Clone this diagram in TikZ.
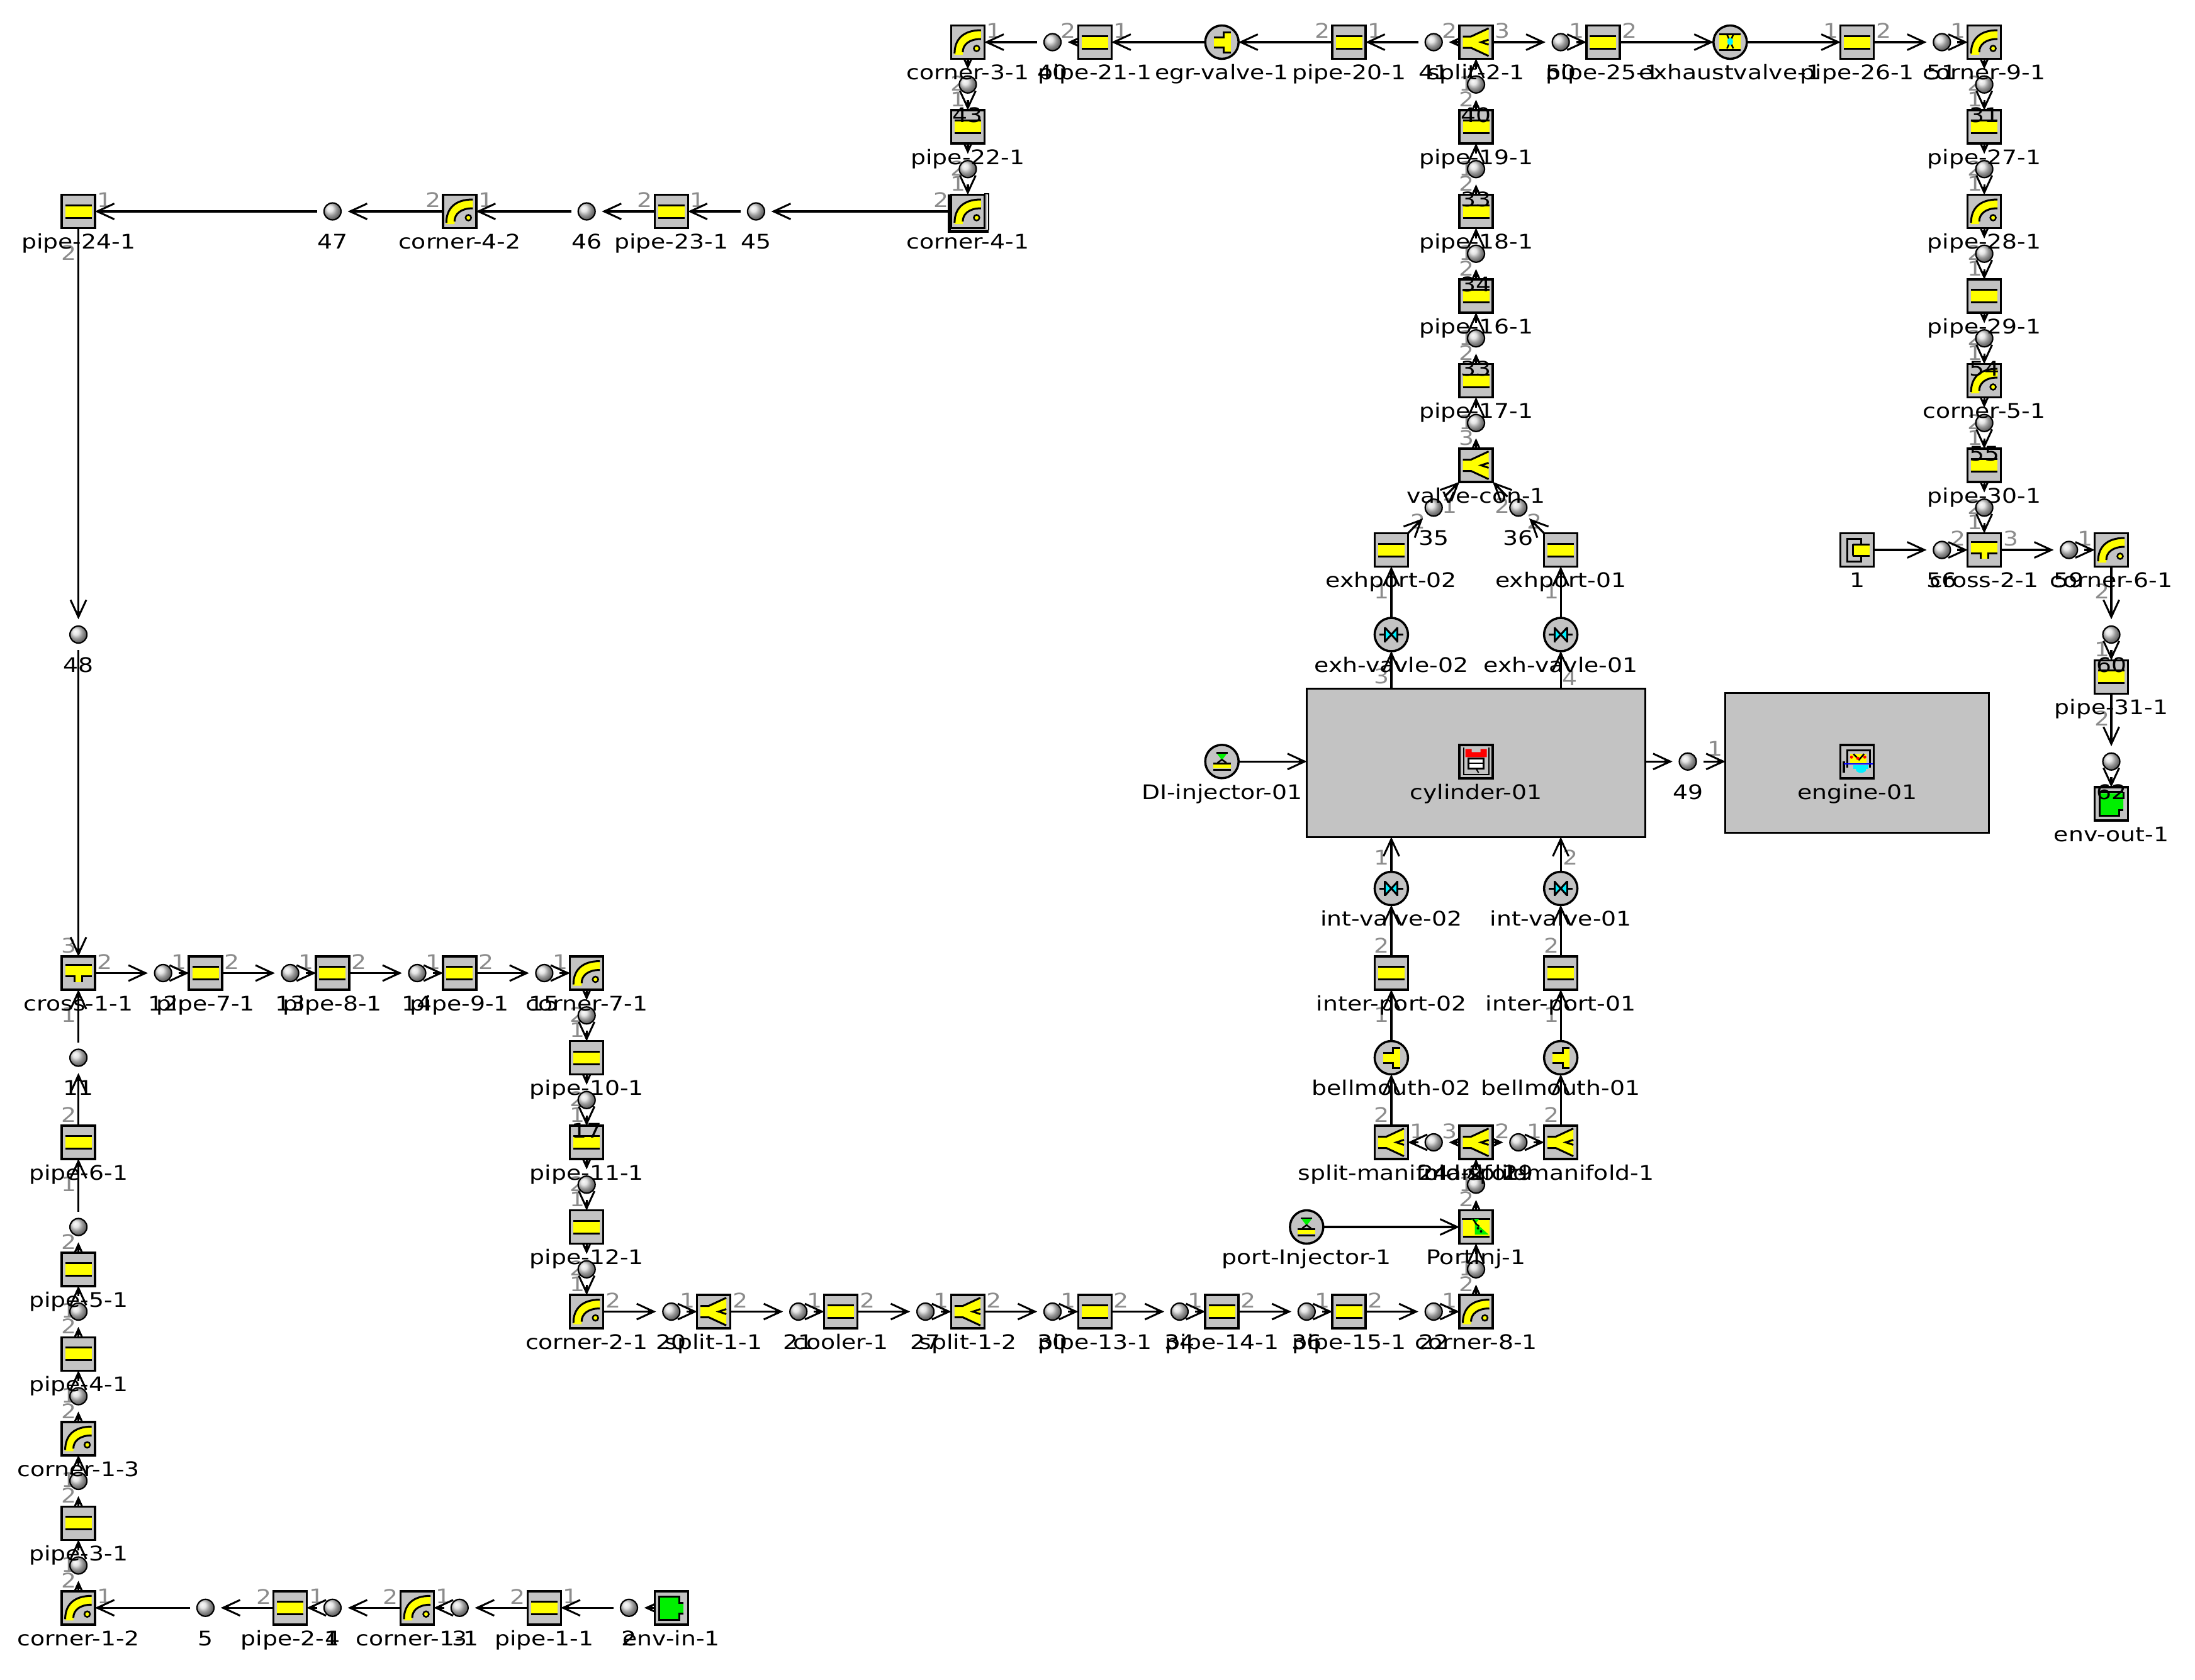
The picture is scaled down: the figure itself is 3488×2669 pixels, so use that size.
\documentclass[tikz,border=0pt]{standalone}
\usepackage{fontspec}
\setmainfont[FakeStretch=1.18]{DejaVu Sans}
\usetikzlibrary{arrows.meta,backgrounds}
\pgfdeclarelayer{fg}
\pgfsetlayers{background,main,fg}
\definecolor{boxgray}{HTML}{C3C3C3}
\definecolor{ylw}{HTML}{FFFF00}
\definecolor{grn}{HTML}{00F000}
\definecolor{cyn}{HTML}{00F0FF}
\definecolor{portgray}{HTML}{8C8C8C}
\tikzset{
  boxn/.style={draw=black,fill=boxgray,line width=3.5pt,minimum size=53pt,inner sep=0pt,outer sep=0pt},
  circn/.style={circle,draw=black,fill=boxgray,line width=3.5pt,minimum size=53pt,inner sep=0pt,outer sep=0pt},
  bigbox/.style={draw=black,fill=boxgray,line width=3.5pt,inner sep=0pt,outer sep=0pt},
  balln/.style={circle,draw=black,line width=2.2pt,minimum size=27pt,inner sep=0pt,outer sep=11pt,shade,ball color=gray!28},
  lab/.style={anchor=base,inner sep=0pt,text=black,font=\fontsize{32}{36}\selectfont},
  portlab/.style={anchor=center,inner sep=0pt,text=portgray,font=\fontsize{32}{36}\selectfont},
  conn/.style={draw=black,line width=3.2pt,-{Straight Barb[length=27pt,width=25pt,line width=3pt,sep=-14pt]Kite[length=14pt,width=9pt]}},
  ic/.style={x=1pt,y=-1pt,line width=3pt},
  pipeic/.pic={\begin{scope}[ic]
    \fill[ylw] (-21,-10) rectangle (21,10);
    \draw (-21,-10) -- (21,-10); \draw (-21,10) -- (21,10);
  \end{scope}},
  cornic/.pic={\begin{scope}[ic]
    \fill[ylw] (-21,20) .. controls (-21,-4) and (-8,-18) .. (21,-18) -- (21,-5) .. controls (2,-5) and (-8,4) .. (-8,20) -- cycle;
    \draw (-21,18) .. controls (-21,-4) and (-8,-19) .. (21,-19);
    \draw (-8,16) .. controls (-8,4) and (2,-5) .. (21,-5);
    \filldraw[fill=ylw,line width=2.5pt] (14,10) circle (4.5);
  \end{scope}},
  cornselic/.pic={\begin{scope}[ic]
    \fill[ylw] (-21,20) .. controls (-21,-4) and (-8,-18) .. (21,-18) -- (21,-5) .. controls (2,-5) and (-8,4) .. (-8,20) -- cycle;
    \draw (-21,18) .. controls (-21,-4) and (-8,-19) .. (21,-19);
    \draw (-8,16) .. controls (-8,4) and (2,-5) .. (21,-5);
    \filldraw[fill=ylw,line width=2.5pt] (14,10) circle (4.5);
    \draw[line width=5pt] (-29,-27) -- (-29,31) -- (33,31);
    \draw[line width=2.5pt] (26,-28) -- (33,-28) -- (33,30);
    \fill[boxgray] (28.5,-26.5) rectangle (31.5,28);
  \end{scope}},
  splitic/.pic={\begin{scope}[ic]
    \fill[ylw] (-21,-8) -- (-8,-8) -- (20,-21) -- (20,21) -- (-8,8) -- (-21,8) -- cycle;
    \draw (-21,-9) -- (-8,-9) -- (20,-22);
    \draw (-21,9) -- (-8,9) -- (20,22);
    \draw (20,-4) -- (8,0) -- (20,4);
  \end{scope}},
  crossic/.pic={\begin{scope}[ic]
    \fill[ylw] (-21,-12) rectangle (21,4);
    \fill[ylw] (-6,4) rectangle (6,14);
    \draw (-21,-13) -- (21,-13);
    \draw (-21,5) -- (-6,5) -- (-6,14);
    \draw (21,5) -- (6,5) -- (6,14);
  \end{scope}},
  bellic/.pic={\begin{scope}[ic]
    \fill[ylw] (-13,-7) rectangle (3,7);
    \fill[ylw] (2,-15) rectangle (14,15);
    \draw (-13,-8) -- (3,-8) -- (3,-16) -- (14,-16);
    \draw (-13,8) -- (3,8) -- (3,16) -- (14,16);
  \end{scope}},
  valveic/.pic={\begin{scope}[ic]
    \fill[cyn] (-10,-11) -- (0,0) -- (10,-11) -- (10,11) -- (0,0) -- (-10,11) -- cycle;
    \draw (-10,-12) -- (-10,12); \draw (10,-12) -- (10,12);
    \draw (-10,-11) -- (10,11); \draw (10,-11) -- (-10,11);
    \draw (-19,0) -- (-10,0); \draw (10,0) -- (19,0);
  \end{scope}},
  exhvalveic/.pic={\begin{scope}[ic]
    \fill[ylw] (-17,-12) rectangle (17,12);
    \draw (-17,-13) -- (17,-13); \draw (-17,12) -- (17,12);
    \draw[line width=2.5pt] (-5,-12) -- (5,10); \draw[line width=2.5pt] (5,-12) -- (-5,10);
    \fill[cyn] (0,-1) ellipse (4.5 and 6);
  \end{scope}},
  injic/.pic={\begin{scope}[ic]
    \fill[grn] (-9,-14) -- (9,-14) -- (0,-2) -- cycle;
    \draw[line width=2.5pt] (-9,-14) -- (9,-14);
    \draw[line width=2.5pt] (-7,2) -- (0,-3) -- (7,2);
    \fill[ylw] (-14,4) rectangle (14,11);
    \draw (-14,3) -- (14,3); \draw (-14,13) -- (14,13);
  \end{scope}},
  portinjic/.pic={\begin{scope}[ic]
    \fill[ylw] (-21,-13) rectangle (21,14);
    \draw (-21,-14) -- (-21,-11); \draw (-21,-13) -- (21,-13); \draw (21,-14) -- (21,-11);
    \draw (-21,15) -- (21,15);
    \fill[grn] (-8,-13) -- (5,-13) -- (0,-6) -- (20,12) -- (-2,12) -- (-2,-7) -- cycle;
    \draw[line width=2.5pt] (-5,-13) -- (0,-5) -- (5,-1);
    \fill (3,2) circle (2); \fill (8,7) circle (2);
  \end{scope}},
  envinic/.pic={\begin{scope}[ic]
    \fill[grn] (-18,-17) -- (13,-17) -- (13,-8) -- (19,-8) -- (19,9) -- (13,9) -- (13,18) -- (-18,18) -- cycle;
    \draw (19,-8) -- (13,-8) -- (13,-18) -- (-19,-18) -- (-19,19) -- (13,19) -- (13,9) -- (19,9);
  \end{scope}},
  envoutic/.pic={\begin{scope}[ic]
    \fill[grn] (-19,-17) -- (19,-17) -- (19,9) -- (12,9) -- (12,18) -- (-19,18) -- cycle;
    \draw (-19,-19) -- (19,-19);
    \draw (-19,-19) -- (-19,19) -- (12,19) -- (12,10) -- (19,10);
    \draw (19,-19) -- (19,-8);
  \end{scope}},
  oneic/.pic={\begin{scope}[ic]
    \fill[ylw] (-7,-8) rectangle (20,8);
    \draw (-7,-9) -- (20,-9); \draw (-7,9) -- (20,9);
    \draw (6,-9) -- (6,-18) -- (-16,-18) -- (-16,18) -- (6,18) -- (6,9);
    \draw (-7,-9) -- (-7,9);
  \end{scope}},
  cylic/.pic={\begin{scope}[ic]
    \filldraw[fill=boxgray,line width=3.5pt] (-26.5,-26.5) rectangle (26.5,26.5);
    \fill[red] (-17,-20) -- (-7,-20) -- (-7,-15) -- (7,-15) -- (7,-20) -- (17,-20) -- (17,-7) -- (-17,-7) -- cycle;
    \draw[line width=2pt] (-20,-22) -- (-20,21) -- (20,21) -- (20,-22);
    \fill[white] (-12,-5) rectangle (12,11);
    \draw[line width=2.5pt] (-12,-5) rectangle (12,11);
    \draw[line width=2pt] (-12,3) -- (12,3);
    \draw[line width=2pt] (0,11) -- (4,18);
  \end{scope}},
  engic/.pic={\begin{scope}[ic]
    \filldraw[fill=boxgray,line width=3.5pt] (-26.5,-26.5) rectangle (26.5,26.5);
    \draw[line width=3pt] (-16,10) -- (-16,-18) -- (20,-18) -- (20,10);
    \fill[black] (-23,0) rectangle (-19,18);
    \fill[ylw] (-11,-12) rectangle (15,4);
    \draw[line width=2.5pt] (-6,-12) -- (3,-3) -- (11,-12);
    \fill[red] (-9,-7) circle (2.5); \fill[red] (1,-5) circle (2.5); \fill[red] (12,-7) circle (2.5);
    \fill[cyn] (-6,6) rectangle (18,12);
    \fill[cyn] (6,13) ellipse (8 and 5);
    \draw[blue,line width=2pt] (-21,4) -- (25,4);
  \end{scope}}
}
\newcommand{\cmp}[5]{\node[boxn] (#2) at (#3,#4) {}; \pic at (#2) {#1}; \begin{pgfonlayer}{fg}\node[lab] (#2-t) at (#3,#4+.89) {#5};\end{pgfonlayer}}
\newcommand{\crc}[5]{\node[circn] (#2) at (#3,#4) {}; \pic at (#2) {#1}; \begin{pgfonlayer}{fg}\node[lab] (#2-t) at (#3,#4+.89) {#5};\end{pgfonlayer}}
\newcommand{\ball}[3]{\node[balln] (b#1-#2) at (#1,#2) {}; \begin{pgfonlayer}{fg}\node[lab] (b#1-#2-t) at (#1,#2+.89) {#3};\end{pgfonlayer}}
\newcommand{\prt}[4]{\begin{pgfonlayer}{background}\node[portlab] (#1-p#2#3) at ([shift={(#2pt,#3pt)}]#1.center) {#4};\end{pgfonlayer}}
\newcommand{\pL}[2]{\prt{#1}{-42}{18}{#2}}
\newcommand{\pR}[2]{\prt{#1}{42}{18}{#2}}
\newcommand{\pT}[2]{\prt{#1}{-15}{44}{#2}}
\newcommand{\pB}[2]{\prt{#1}{-15}{-66}{#2}}
\newcommand{\cn}[2]{\draw[conn] (#1) -- (#2);}
\begin{document}
\begin{tikzpicture}[x=67.3pt,y=-67.25pt]
\useasboundingbox (-124.6pt,67pt) rectangle (3363.4pt,-2602pt);
\begin{pgfonlayer}{background}
\fill[white] (-124.6pt,67pt) rectangle (3363.4pt,-2602pt);
\end{pgfonlayer}
% big blocks
\node[bigbox,minimum width=538pt,minimum height=236pt] (cylinder-01) at (33,17.03) {};
\node[bigbox,minimum width=419pt,minimum height=222pt] (engine-01) at (42,17.03) {};
\pic at (33,17) {cylic};
\pic at (42,17) {engic};
\begin{pgfonlayer}{fg}
\node[lab] (cylinder-01-t) at (33,17.89) {cylinder-01};
\node[lab] (engine-01-t) at (42,17.89) {engine-01};
\end{pgfonlayer}
% top row
\cmp{cornic}{corner-3-1}{21}{0}{corner-3-1}
\ball{23}{0}{40}
\cmp{pipeic}{pipe-21-1}{24}{0}{pipe-21-1}
\crc{bellic}{egr-valve-1}{27}{0}{egr-valve-1}
\cmp{pipeic}{pipe-20-1}{30}{0}{pipe-20-1}
\ball{32}{0}{41}
\cmp{splitic}{split-2-1}{33}{0}{split-2-1}
\ball{35}{0}{50}
\cmp{pipeic}{pipe-25-1}{36}{0}{pipe-25-1}
\crc{exhvalveic}{exhaustvalve-1}{39}{0}{exhaustvalve-1}
\cmp{pipeic}{pipe-26-1}{42}{0}{pipe-26-1}
\ball{44}{0}{51}
\cmp{cornic}{corner-9-1}{45}{0}{corner-9-1}
% column 21 and row 4
\ball{21}{1}{43}
\cmp{pipeic}{pipe-22-1}{21}{2}{pipe-22-1}
\ball{21}{3}{}
\cmp{cornselic}{corner-4-1}{21}{4}{corner-4-1}
\ball{16}{4}{45}
\cmp{pipeic}{pipe-23-1}{14}{4}{pipe-23-1}
\ball{12}{4}{46}
\cmp{cornic}{corner-4-2}{9}{4}{corner-4-2}
\ball{6}{4}{47}
\cmp{pipeic}{pipe-24-1}{0}{4}{pipe-24-1}
\ball{0}{14}{48}
% column 33 upper
\ball{33}{1}{40}
\cmp{pipeic}{pipe-19-1}{33}{2}{pipe-19-1}
\ball{33}{3}{33}
\cmp{pipeic}{pipe-18-1}{33}{4}{pipe-18-1}
\ball{33}{5}{34}
\cmp{pipeic}{pipe-16-1}{33}{6}{pipe-16-1}
\ball{33}{7}{33}
\cmp{pipeic}{pipe-17-1}{33}{8}{pipe-17-1}
\ball{33}{9}{}
\cmp{splitic}{valve-con-1}{33}{10}{valve-con-1}
\ball{32}{11}{35}
\ball{34}{11}{36}
\cmp{pipeic}{exhport-02}{31}{12}{exhport-02}
\cmp{pipeic}{exhport-01}{35}{12}{exhport-01}
\crc{valveic}{exh-valve-02}{31}{14}{exh-vavle-02}
\crc{valveic}{exh-valve-01}{35}{14}{exh-vavle-01}
% column 45
\ball{45}{1}{31}
\cmp{pipeic}{pipe-27-1}{45}{2}{pipe-27-1}
\ball{45}{3}{}
\cmp{cornic}{pipe-28-1}{45}{4}{pipe-28-1}
\ball{45}{5}{}
\cmp{pipeic}{pipe-29-1}{45}{6}{pipe-29-1}
\ball{45}{7}{54}
\cmp{cornic}{corner-5-1}{45}{8}{corner-5-1}
\ball{45}{9}{55}
\cmp{pipeic}{pipe-30-1}{45}{10}{pipe-30-1}
\ball{45}{11}{}
\cmp{crossic}{cross-2-1}{45}{12}{cross-2-1}
\cmp{oneic}{comp-1}{42}{12}{1}
\ball{44}{12}{56}
\ball{47}{12}{59}
\cmp{cornic}{corner-6-1}{48}{12}{corner-6-1}
\ball{48}{14}{60}
\cmp{pipeic}{pipe-31-1}{48}{15}{pipe-31-1}
\ball{48}{17}{62}
\cmp{envoutic}{env-out-1}{48}{18}{env-out-1}
% cylinder surroundings
\crc{injic}{DI-injector-01}{27}{17}{DI-injector-01}
\ball{38}{17}{49}
\crc{valveic}{int-valve-02}{31}{20}{int-valve-02}
\crc{valveic}{int-valve-01}{35}{20}{int-valve-01}
\cmp{pipeic}{inter-port-02}{31}{22}{inter-port-02}
\cmp{pipeic}{inter-port-01}{35}{22}{inter-port-01}
\crc{bellic}{bellmouth-02}{31}{24}{bellmouth-02}
\crc{bellic}{bellmouth-01}{35}{24}{bellmouth-01}
\cmp{splitic}{split-manifold-2}{31}{26}{split-manifold-2}
\ball{32}{26}{24}
\cmp{splitic}{manifold}{33}{26}{manifold}
\ball{34}{26}{29}
\cmp{splitic}{split-manifold-1}{35}{26}{split-manifold-1}
\ball{33}{27}{}
\crc{injic}{port-Injector-1}{29}{28}{port-Injector-1}
\cmp{portinjic}{PortInj-1}{33}{28}{PortInj-1}
\ball{33}{29}{}
% row 30
\cmp{cornic}{corner-2-1}{12}{30}{corner-2-1}
\ball{14}{30}{20}
\cmp{splitic}{split-1-1}{15}{30}{split-1-1}
\ball{17}{30}{21}
\cmp{pipeic}{cooler-1}{18}{30}{cooler-1}
\ball{20}{30}{27}
\cmp{splitic}{split-1-2}{21}{30}{split-1-2}
\ball{23}{30}{30}
\cmp{pipeic}{pipe-13-1}{24}{30}{pipe-13-1}
\ball{26}{30}{34}
\cmp{pipeic}{pipe-14-1}{27}{30}{pipe-14-1}
\ball{29}{30}{36}
\cmp{pipeic}{pipe-15-1}{30}{30}{pipe-15-1}
\ball{32}{30}{22}
\cmp{cornic}{corner-8-1}{33}{30}{corner-8-1}
% column 12
\cmp{cornic}{corner-7-1}{12}{22}{corner-7-1}
\ball{12}{23}{}
\cmp{pipeic}{pipe-10-1}{12}{24}{pipe-10-1}
\ball{12}{25}{17}
\cmp{pipeic}{pipe-11-1}{12}{26}{pipe-11-1}
\ball{12}{27}{}
\cmp{pipeic}{pipe-12-1}{12}{28}{pipe-12-1}
\ball{12}{29}{}
% row 22
\cmp{crossic}{cross-1-1}{0}{22}{cross-1-1}
\ball{2}{22}{12}
\cmp{pipeic}{pipe-7-1}{3}{22}{pipe-7-1}
\ball{5}{22}{13}
\cmp{pipeic}{pipe-8-1}{6}{22}{pipe-8-1}
\ball{8}{22}{14}
\cmp{pipeic}{pipe-9-1}{9}{22}{pipe-9-1}
\ball{11}{22}{15}
% left column
\ball{0}{24}{11}
\cmp{pipeic}{pipe-6-1}{0}{26}{pipe-6-1}
\ball{0}{28}{}
\cmp{pipeic}{pipe-5-1}{0}{29}{pipe-5-1}
\ball{0}{30}{}
\cmp{pipeic}{pipe-4-1}{0}{31}{pipe-4-1}
\ball{0}{32}{}
\cmp{cornic}{corner-1-3}{0}{33}{corner-1-3}
\ball{0}{34}{}
\cmp{pipeic}{pipe-3-1}{0}{35}{pipe-3-1}
\ball{0}{36}{}
\cmp{cornic}{corner-1-2}{0}{37}{corner-1-2}
% bottom row
\ball{3}{37}{5}
\cmp{pipeic}{pipe-2-1}{5}{37}{pipe-2-1}
\ball{6}{37}{4}
\cmp{cornic}{corner-1-1}{8}{37}{corner-1-1}
\ball{9}{37}{3}
\cmp{pipeic}{pipe-1-1}{11}{37}{pipe-1-1}
\ball{13}{37}{2}
\cmp{envinic}{env-in-1}{14}{37}{env-in-1}
% port numbers
\pR{corner-3-1}{1}\pB{corner-3-1}{2}\pL{pipe-21-1}{2}\pR{pipe-21-1}{1}
\pL{pipe-20-1}{2}\pR{pipe-20-1}{1}\pL{split-2-1}{2}\prt{split-2-1}{42}{18}{3}\pB{split-2-1}{1}
\pL{pipe-25-1}{1}\pR{pipe-25-1}{2}\pL{pipe-26-1}{1}\pR{pipe-26-1}{2}\pL{corner-9-1}{1}\pB{corner-9-1}{2}
\pT{pipe-22-1}{1}\pB{pipe-22-1}{2}\pT{corner-4-1}{1}\pL{corner-4-1}{2}
\pL{pipe-23-1}{2}\pR{pipe-23-1}{1}\pL{corner-4-2}{2}\pR{corner-4-2}{1}\pR{pipe-24-1}{1}\pB{pipe-24-1}{2}
\pT{pipe-19-1}{2}\pB{pipe-19-1}{1}\pT{pipe-18-1}{2}\pB{pipe-18-1}{1}\pT{pipe-16-1}{2}\pB{pipe-16-1}{1}\pT{pipe-17-1}{2}\pB{pipe-17-1}{1}
\pT{valve-con-1}{3}\prt{valve-con-1}{-42}{-64}{1}\prt{valve-con-1}{42}{-64}{2}
\prt{exhport-02}{43}{45}{2}\pB{exhport-02}{1}\prt{exhport-01}{-42}{45}{2}\pB{exhport-01}{1}
\pB{exh-valve-02}{3}\prt{exh-valve-01}{14}{-69}{4}
\pT{pipe-27-1}{1}\pB{pipe-27-1}{2}\pT{pipe-28-1}{1}\pB{pipe-28-1}{2}\pT{pipe-29-1}{1}\pB{pipe-29-1}{2}
\pT{corner-5-1}{1}\pB{corner-5-1}{2}\pT{pipe-30-1}{1}\pB{pipe-30-1}{2}
\pT{cross-2-1}{1}\pL{cross-2-1}{2}\pR{cross-2-1}{3}\pL{corner-6-1}{1}\pB{corner-6-1}{2}\pT{pipe-31-1}{1}\pB{pipe-31-1}{2}
\prt{int-valve-02}{-15}{49}{1}\prt{int-valve-01}{15}{49}{2}\prt{b38-17}{43}{20}{1}
\pT{inter-port-02}{2}\pB{inter-port-02}{1}\pT{inter-port-01}{2}\pB{inter-port-01}{1}
\pT{split-manifold-2}{2}\pR{split-manifold-2}{1}\pL{manifold}{3}\pR{manifold}{2}\pB{manifold}{1}\pL{split-manifold-1}{1}\pT{split-manifold-1}{2}
\pT{PortInj-1}{2}\pB{PortInj-1}{1}\pT{corner-8-1}{2}\pL{corner-8-1}{1}
\pT{corner-2-1}{1}\pR{corner-2-1}{2}\pL{split-1-1}{1}\pR{split-1-1}{2}\pL{cooler-1}{1}\pR{cooler-1}{2}\pL{split-1-2}{1}\pR{split-1-2}{2}
\pL{pipe-13-1}{1}\pR{pipe-13-1}{2}\pL{pipe-14-1}{1}\pR{pipe-14-1}{2}\pL{pipe-15-1}{1}\pR{pipe-15-1}{2}
\pL{corner-7-1}{1}\pB{corner-7-1}{2}\pT{pipe-10-1}{1}\pB{pipe-10-1}{2}\pT{pipe-11-1}{1}\pB{pipe-11-1}{2}\pT{pipe-12-1}{1}\pB{pipe-12-1}{2}
\pT{cross-1-1}{3}\pR{cross-1-1}{2}\pB{cross-1-1}{1}\pL{pipe-7-1}{1}\pR{pipe-7-1}{2}\pL{pipe-8-1}{1}\pR{pipe-8-1}{2}\pL{pipe-9-1}{1}\pR{pipe-9-1}{2}
\pT{pipe-6-1}{2}\pB{pipe-6-1}{1}\pT{pipe-5-1}{2}\pB{pipe-5-1}{1}\pT{pipe-4-1}{2}\pB{pipe-4-1}{1}\pT{corner-1-3}{2}\pB{corner-1-3}{1}\pT{pipe-3-1}{2}\pB{pipe-3-1}{1}
\pT{corner-1-2}{2}\pR{corner-1-2}{1}\pL{pipe-2-1}{2}\pR{pipe-2-1}{1}\pL{corner-1-1}{2}\pR{corner-1-1}{1}\pL{pipe-1-1}{2}\pR{pipe-1-1}{1}
% connectors
\begin{pgfonlayer}{background}
\cn{env-in-1}{b13-37}\cn{b13-37}{pipe-1-1}\cn{pipe-1-1}{b9-37}\cn{b9-37}{corner-1-1}
\cn{corner-1-1}{b6-37}\cn{b6-37}{pipe-2-1}\cn{pipe-2-1}{b3-37}\cn{b3-37}{corner-1-2}
\cn{corner-1-2}{b0-36}\cn{b0-36}{pipe-3-1}\cn{pipe-3-1}{b0-34}\cn{b0-34}{corner-1-3}
\cn{corner-1-3}{b0-32}\cn{b0-32}{pipe-4-1}\cn{pipe-4-1}{b0-30}\cn{b0-30}{pipe-5-1}
\cn{pipe-5-1}{b0-28}\cn{b0-28}{pipe-6-1}\cn{pipe-6-1}{b0-24}\cn{b0-24}{cross-1-1}
\cn{pipe-24-1}{b0-14}\cn{b0-14}{cross-1-1}
\cn{cross-1-1}{b2-22}\cn{b2-22}{pipe-7-1}\cn{pipe-7-1}{b5-22}\cn{b5-22}{pipe-8-1}
\cn{pipe-8-1}{b8-22}\cn{b8-22}{pipe-9-1}\cn{pipe-9-1}{b11-22}\cn{b11-22}{corner-7-1}
\cn{corner-7-1}{b12-23}\cn{b12-23}{pipe-10-1}\cn{pipe-10-1}{b12-25}\cn{b12-25}{pipe-11-1}
\cn{pipe-11-1}{b12-27}\cn{b12-27}{pipe-12-1}\cn{pipe-12-1}{b12-29}\cn{b12-29}{corner-2-1}
\cn{corner-2-1}{b14-30}\cn{b14-30}{split-1-1}\cn{split-1-1}{b17-30}\cn{b17-30}{cooler-1}
\cn{cooler-1}{b20-30}\cn{b20-30}{split-1-2}\cn{split-1-2}{b23-30}\cn{b23-30}{pipe-13-1}
\cn{pipe-13-1}{b26-30}\cn{b26-30}{pipe-14-1}\cn{pipe-14-1}{b29-30}\cn{b29-30}{pipe-15-1}
\cn{pipe-15-1}{b32-30}\cn{b32-30}{corner-8-1}\cn{corner-8-1}{b33-29}\cn{b33-29}{PortInj-1}
\cn{PortInj-1}{b33-27}\cn{b33-27}{manifold}\cn{port-Injector-1}{PortInj-1}
\cn{manifold}{b32-26}\cn{b32-26}{split-manifold-2}\cn{manifold}{b34-26}\cn{b34-26}{split-manifold-1}
\cn{split-manifold-2}{bellmouth-02}\cn{bellmouth-02}{inter-port-02}\cn{inter-port-02}{int-valve-02}
\cn{split-manifold-1}{bellmouth-01}\cn{bellmouth-01}{inter-port-01}\cn{inter-port-01}{int-valve-01}
\draw[conn] (int-valve-02) -- (int-valve-02 |- cylinder-01.south);
\draw[conn] (int-valve-01) -- (int-valve-01 |- cylinder-01.south);
\draw[conn] (exh-valve-02 |- cylinder-01.north) -- (exh-valve-02);
\draw[conn] (exh-valve-01 |- cylinder-01.north) -- (exh-valve-01);
\draw[conn] (DI-injector-01) -- (DI-injector-01 -| cylinder-01.west);
\draw[conn] (b38-17 -| cylinder-01.east) -- (b38-17);
\draw[conn] (b38-17) -- (b38-17 -| engine-01.west);
\cn{exh-valve-02}{exhport-02}\cn{exhport-02}{b32-11}\cn{b32-11}{valve-con-1}
\cn{exh-valve-01}{exhport-01}\cn{exhport-01}{b34-11}\cn{b34-11}{valve-con-1}
\cn{valve-con-1}{b33-9}\cn{b33-9}{pipe-17-1}\cn{pipe-17-1}{b33-7}\cn{b33-7}{pipe-16-1}
\cn{pipe-16-1}{b33-5}\cn{b33-5}{pipe-18-1}\cn{pipe-18-1}{b33-3}\cn{b33-3}{pipe-19-1}
\cn{pipe-19-1}{b33-1}\cn{b33-1}{split-2-1}
\cn{split-2-1}{b32-0}\cn{b32-0}{pipe-20-1}\cn{pipe-20-1}{egr-valve-1}\cn{egr-valve-1}{pipe-21-1}
\cn{pipe-21-1}{b23-0}\cn{b23-0}{corner-3-1}\cn{corner-3-1}{b21-1}\cn{b21-1}{pipe-22-1}
\cn{pipe-22-1}{b21-3}\cn{b21-3}{corner-4-1}\cn{corner-4-1}{b16-4}\cn{b16-4}{pipe-23-1}
\cn{pipe-23-1}{b12-4}\cn{b12-4}{corner-4-2}\cn{corner-4-2}{b6-4}\cn{b6-4}{pipe-24-1}
\cn{split-2-1}{b35-0}\cn{b35-0}{pipe-25-1}\cn{pipe-25-1}{exhaustvalve-1}\cn{exhaustvalve-1}{pipe-26-1}
\cn{pipe-26-1}{b44-0}\cn{b44-0}{corner-9-1}\cn{corner-9-1}{b45-1}\cn{b45-1}{pipe-27-1}
\cn{pipe-27-1}{b45-3}\cn{b45-3}{pipe-28-1}\cn{pipe-28-1}{b45-5}\cn{b45-5}{pipe-29-1}
\cn{pipe-29-1}{b45-7}\cn{b45-7}{corner-5-1}\cn{corner-5-1}{b45-9}\cn{b45-9}{pipe-30-1}
\cn{pipe-30-1}{b45-11}\cn{b45-11}{cross-2-1}\cn{comp-1}{b44-12}\cn{b44-12}{cross-2-1}
\cn{cross-2-1}{b47-12}\cn{b47-12}{corner-6-1}\cn{corner-6-1}{b48-14}\cn{b48-14}{pipe-31-1}
\cn{pipe-31-1}{b48-17}\cn{b48-17}{env-out-1}
\end{pgfonlayer}
\end{tikzpicture}
\end{document}
